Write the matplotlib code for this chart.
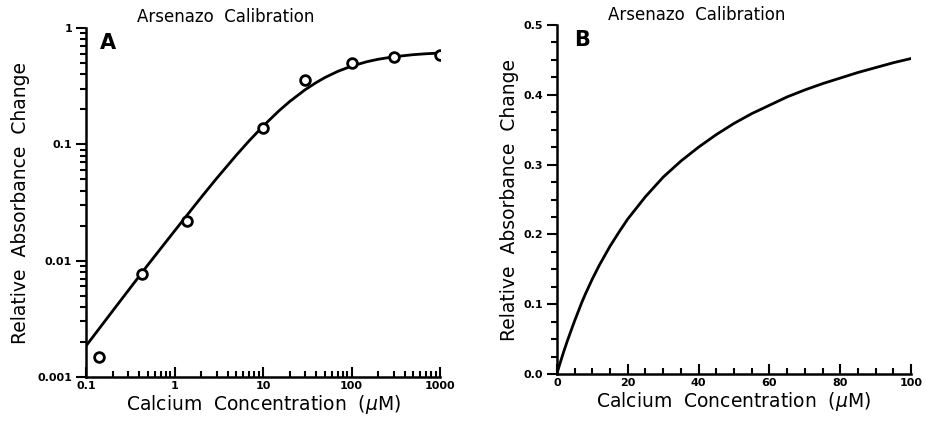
"""Arsenazo calibration curves (log-log and linear)"""
import numpy as np
import matplotlib
matplotlib.use('Agg')
import matplotlib.pyplot as plt
from matplotlib.ticker import LogLocator, NullFormatter, FixedLocator, MultipleLocator

# panel A: measured points
calcium_pts = [0.14, 0.43, 1.37, 10, 30, 100, 300, 1000]
absorb_pts = [0.0015, 0.0077, 0.022, 0.137, 0.358, 0.498, 0.567, 0.59]

# panel A: fitted curve
calcium_fit_a = [0.1, 0.2, 0.5, 1, 2, 3, 5, 7, 10, 15, 20, 30, 40, 50, 70, 100,
                 150, 200, 300, 500, 700, 1000]
absorb_fit_a = [0.00185, 0.0037, 0.0092, 0.018, 0.035, 0.0511, 0.0808, 0.1076,
                0.1432, 0.1929, 0.2333, 0.2953, 0.340, 0.375, 0.424, 0.47, 0.5136,
                0.5385, 0.5659, 0.59, 0.6008, 0.6093]

# panel B: curve on linear axes
calcium_fit_b = [0, 0.5, 1, 1.5, 2, 3, 4, 5, 6, 7, 8, 10, 12, 15, 17.5, 20, 25, 30,
                 35, 40, 45, 50, 55, 60, 65, 70, 75, 80, 85, 90, 95, 100]
absorb_fit_b = [0, 0.0087, 0.017, 0.025, 0.033, 0.048, 0.062, 0.076, 0.089, 0.102,
                0.114, 0.136, 0.156, 0.183, 0.203, 0.222, 0.254, 0.282, 0.305, 0.325,
                0.343, 0.359, 0.373, 0.385, 0.397, 0.407, 0.416, 0.424, 0.432, 0.439,
                0.446, 0.452]

x_ticks_a = [0.1, 1, 10, 100, 1000]
x_labels_a = ['0.1', '1', '10', '100', '1000']
y_ticks_a = [0.001, 0.01, 0.1, 1]
y_labels_a = ['0.001', '0.01', '0.1', '1']

plt.rcParams['font.family'] = ['DejaVu Sans']
plt.rcParams['mathtext.fontset'] = 'dejavusans'

fig = plt.figure(figsize=(9.25, 4.21), dpi=100)
ax1 = fig.add_axes([0.093, 0.1045, 0.3827, 0.829])
ax2 = fig.add_axes([0.602, 0.1116, 0.383, 0.829])

xlab = r'Calcium  Concentration  ($\mu$M)'
ylab = 'Relative  Absorbance  Change'

####### Panel A #######
ax1.plot(calcium_fit_a, absorb_fit_a, color='black', lw=2)
ax1.plot(calcium_pts, absorb_pts, 'o', mfc='white', mec='black', mew=2, ms=7)
ax1.set_xscale('log')
ax1.set_yscale('log')
ax1.set_xlim(0.1, 1000)
ax1.set_ylim(0.001, 1)
ax1.xaxis.set_major_locator(FixedLocator(x_ticks_a))
ax1.set_xticklabels(x_labels_a)
ax1.yaxis.set_major_locator(FixedLocator(y_ticks_a))
ax1.set_yticklabels(y_labels_a)
ax1.xaxis.set_minor_locator(LogLocator(base=10, subs=np.arange(2, 10)))
ax1.yaxis.set_minor_locator(LogLocator(base=10, subs=np.arange(2, 10)))
ax1.xaxis.set_minor_formatter(NullFormatter())
ax1.yaxis.set_minor_formatter(NullFormatter())
ax1.set_xlabel(xlab, fontsize=13.5, labelpad=1)
ax1.set_ylabel(ylab, fontsize=13.5, labelpad=5)
ax1.text(0.04, 0.985, 'A', transform=ax1.transAxes, fontsize=15, fontweight='bold',
         va='top', ha='left')
fig.text(0.148, 0.96, 'Arsenazo  Calibration', fontsize=12, va='center', ha='left')

####### Panel B #######
ax2.plot(calcium_fit_b, absorb_fit_b, color='black', lw=2)
ax2.set_xlim(0, 100)
ax2.set_ylim(0, 0.5)
ax2.xaxis.set_major_locator(MultipleLocator(20))
ax2.xaxis.set_minor_locator(MultipleLocator(5))
ax2.yaxis.set_major_locator(MultipleLocator(0.1))
ax2.yaxis.set_minor_locator(MultipleLocator(0.025))
ax2.yaxis.set_major_formatter(plt.FormatStrFormatter('%.1f'))
ax2.set_xlabel(xlab, fontsize=13.5, labelpad=1)
ax2.set_ylabel(ylab, fontsize=13.5, labelpad=3)
ax2.text(0.05, 0.985, 'B', transform=ax2.transAxes, fontsize=15, fontweight='bold',
         va='top', ha='left')
fig.text(0.657, 0.965, 'Arsenazo  Calibration', fontsize=12, va='center', ha='left')

for ax in (ax1, ax2):
    ax.spines['top'].set_visible(False)
    ax.spines['right'].set_visible(False)
    ax.spines['left'].set_linewidth(1.8)
    ax.spines['bottom'].set_linewidth(1.8)
    ax.tick_params(axis='y', which='both', direction='out', width=1.5)
    ax.tick_params(axis='x', which='both', direction='in', width=1.5)
    ax.tick_params(which='major', length=7, labelsize=8, pad=3)
    ax.tick_params(which='minor', length=4)
    for lbl in ax.get_xticklabels() + ax.get_yticklabels():
        lbl.set_fontweight('bold')

plt.savefig('out.png', dpi=100)
